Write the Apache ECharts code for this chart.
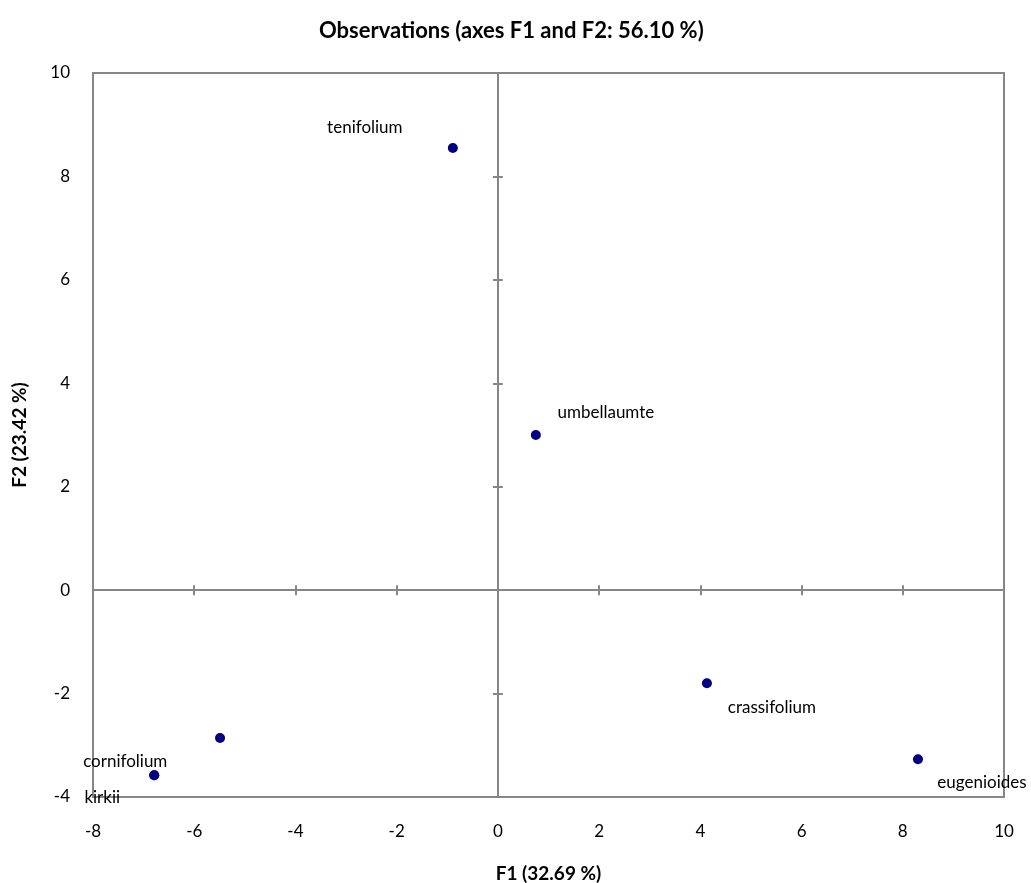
<!DOCTYPE html>
<html>
<head>
<meta charset="utf-8">
<script src="https://cdn.jsdelivr.net/npm/echarts@6/dist/echarts.min.js"></script>
<style>html,body{margin:0;padding:0;background:#fff}#c{width:1031px;height:883px}</style>
</head>
<body>
<div id="c"></div>
<script>
// ---- data ----
const names = ['tenifolium', 'umbellaumte', 'crassifolium', 'eugenioides', 'cornifolium', 'kirkii', ''];
const f1 = [-0.89, 0.75, 4.13, 8.30, -6.79, -6.79, -5.49];
const f2 = [8.55, 3.00, -1.80, -3.27, -3.58, -3.58, -2.86];
const titleText = 'Observations (axes F1 and F2: 56.10 %)';
const xName = 'F1 (32.69 %)';
const yName = 'F2 (23.42 %)';
const xRange = [-8, 10];
const yRange = [-4, 10];
const tickStep = 2;

// ---- style (label offsets in px) ----
const labelOffsets = [[-88, -20], [70, -22], [65, 24], [64, 23], [-29, -14], [-52, 22], [0, 0]];

const FONT = 'Lato';
const gray = '#878787';

const points = names.map((n, i) => ({
  name: n,
  value: [f1[i], f2[i]],
  label: { show: n !== '', position: 'inside', offset: labelOffsets[i], formatter: '{b}' }
}));

function zeroAxis(dim, pos) {
  const rng = dim === 'x' ? xRange : yRange;
  return {
    type: 'value', min: rng[0], max: rng[1], interval: tickStep, position: pos,
    axisLine: { show: true, onZero: true, onZeroAxisIndex: 0, lineStyle: { color: gray, width: 2 } },
    axisTick: { show: true, inside: true, length: 5, lineStyle: { color: gray, width: 2 } },
    axisLabel: { show: false }, splitLine: { show: false }
  };
}

const chart = echarts.init(document.getElementById('c'));
chart.setOption({
  animation: false,
  backgroundColor: '#fff',
  textStyle: { fontFamily: FONT },
  title: {
    text: titleText, left: 314, top: 15,
    textStyle: { fontFamily: FONT, fontWeight: 'bold', fontSize: 22, color: '#000' }
  },
  grid: { left: 93, right: 27, top: 73, bottom: 86, outerBoundsMode: 'none', containLabel: false, show: true, borderColor: gray, borderWidth: 2, backgroundColor: 'transparent' },
  xAxis: [
    {
      type: 'value', min: xRange[0], max: xRange[1], interval: tickStep, position: 'bottom',
      axisLine: { show: false, onZero: false }, axisTick: { show: false }, splitLine: { show: false },
      axisLabel: { margin: 26, fontSize: 17, color: '#000', fontFamily: FONT },
      name: xName, nameLocation: 'middle', nameGap: 67,
      nameTextStyle: { fontFamily: FONT, fontWeight: 'bold', fontSize: 19, color: '#000' }
    },
    zeroAxis('x', 'bottom'),
    zeroAxis('x', 'top')
  ],
  yAxis: [
    {
      type: 'value', min: yRange[0], max: yRange[1], interval: tickStep, position: 'left',
      axisLine: { show: false, onZero: false }, axisTick: { show: false }, splitLine: { show: false },
      axisLabel: { margin: 23, fontSize: 17, color: '#000', fontFamily: FONT },
      name: yName, nameLocation: 'middle', nameGap: 64,
      nameTextStyle: { fontFamily: FONT, fontWeight: 'bold', fontSize: 19, color: '#000' }
    },
    zeroAxis('y', 'left'),
    zeroAxis('y', 'right')
  ],
  series: [{
    type: 'scatter', xAxisIndex: 0, yAxisIndex: 0,
    symbol: 'circle', symbolSize: 10,
    itemStyle: { color: '#000080', opacity: 1 },
    label: { color: '#000', fontSize: 17, fontFamily: FONT },
    data: points
  }]
});
</script>
</body>
</html>
